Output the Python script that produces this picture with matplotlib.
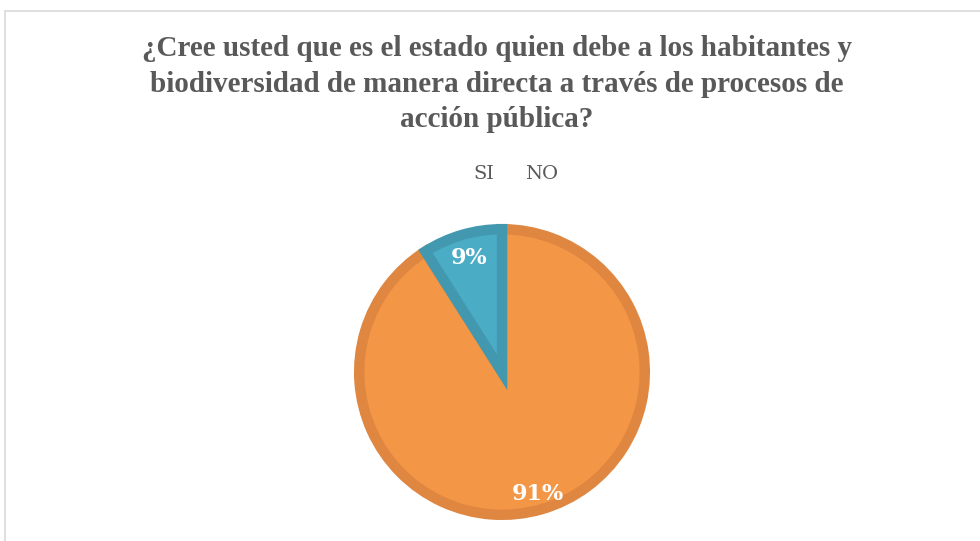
import matplotlib.pyplot as plt
from matplotlib.patches import Rectangle

# data
labels = ["SI", "NO"]
values = [91, 9]
colors = ["#F39646", "#4BACC6"]
edge_colors = ["#DF8640", "#4298AF"]
title = ("¿Cree usted que es el estado quien debe a los habitantes y\n"
         "biodiversidad de manera directa a través de procesos de\n"
         "acción pública?")

W, H = 980, 541
fig = plt.figure(figsize=(W / 100, H / 100), dpi=100)

# chart border
fig.patches.append(Rectangle((5 / W, 0 - 0.01), 1.0, (H - 11) / H + 0.01,
                             transform=fig.transFigure, fill=False,
                             edgecolor="#D9D9D9", linewidth=1.2))

fig.text(497 / W, 1 - 84 / H, title, ha="center", va="center",
         fontsize=21, fontweight="bold", family="Liberation Serif",
         color="#595959", linespacing=1.42)

# legend as plain text
fig.text(484 / W, 1 - 174 / H, labels[0], ha="center", va="center",
         fontsize=14, family="DejaVu Serif", color="#595959")
fig.text(542 / W, 1 - 174 / H, labels[1], ha="center", va="center",
         fontsize=14, family="DejaVu Serif", color="#595959")

# pie axes, centre at (502, 372) px, radius 148 px
cx, cy, half = 502, H - 372, 160
ax = fig.add_axes([(cx - half) / W, (cy - half) / H, 2 * half / W, 2 * half / H])
ax.axis("off")

wedges, _, autotexts = ax.pie(values, colors=colors, startangle=90,
                              counterclock=False, radius=0.965,
                              autopct="%1.0f%%", pctdistance=0.83,
                              wedgeprops=dict(linewidth=7.5),
                              textprops=dict(color="white", fontsize=16,
                                             fontweight="bold",
                                             family="DejaVu Serif"))
for w, ec in zip(wedges, edge_colors):
    w.set_edgecolor(ec)
    w.set_joinstyle("miter")
    w.set_clip_on(False)
# push the big label a little further out
x, y = autotexts[0].get_position()
autotexts[0].set_position((x * 1.07, y * 1.07))
ax.set_xlim(-half / 148, half / 148)
ax.set_ylim(-half / 148, half / 148)

fig.savefig("out.png", dpi=100)
